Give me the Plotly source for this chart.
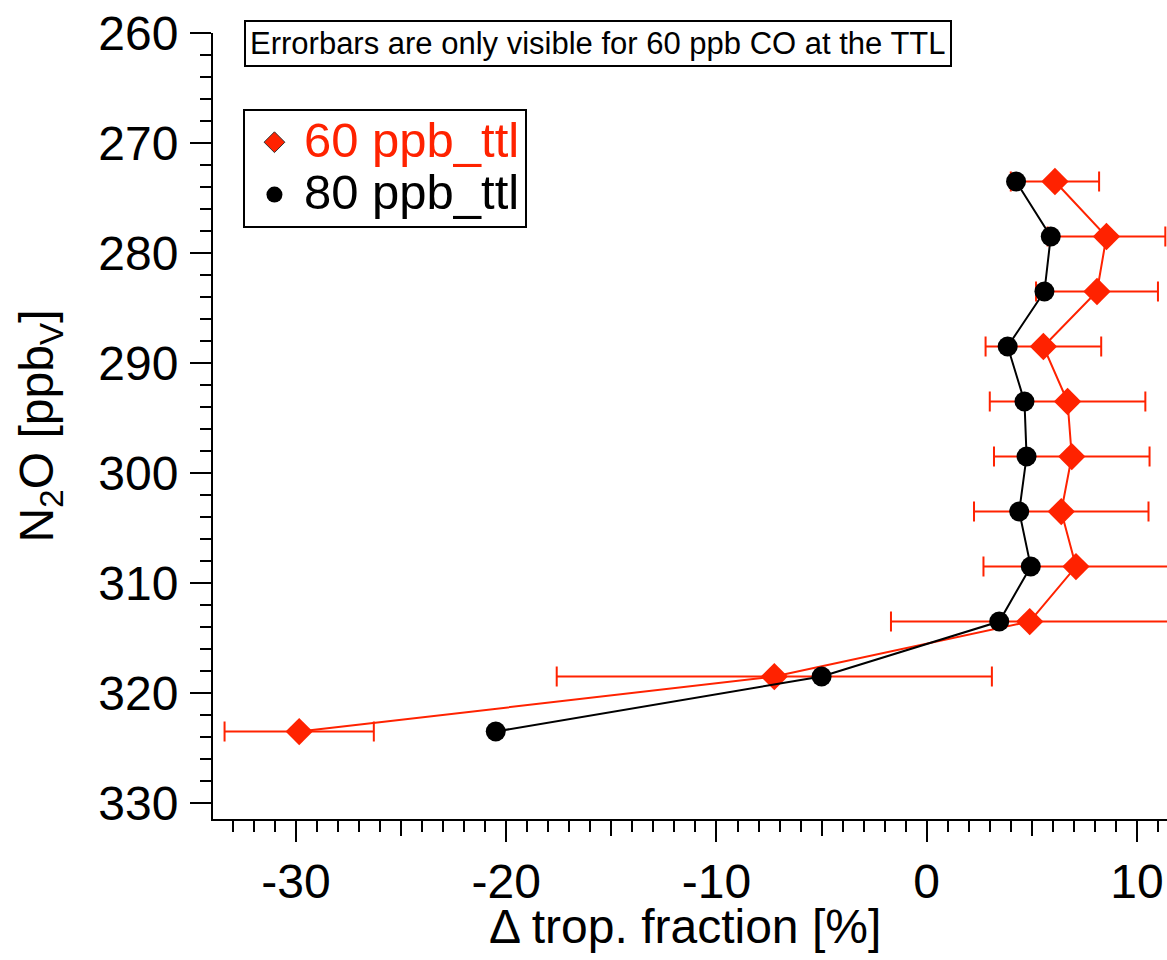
import plotly.graph_objects as go

# ---- data ----
n2o_levels = [273.5, 278.5, 283.5, 288.5, 293.5, 298.5, 303.5, 308.5, 313.5, 318.5, 323.5]
frac_60ppb = [6.1, 8.55, 8.1, 5.55, 6.7, 6.9, 6.4, 7.1, 4.9, -7.25, -29.85]
err_60ppb = [2.1, 2.8, 2.9, 2.75, 3.7, 3.7, 4.15, 4.4, 6.6, 10.35, 3.55]
frac_80ppb = [4.25, 5.9, 5.6, 3.85, 4.65, 4.75, 4.4, 4.95, 3.45, -5.0, -20.5]
x_major_ticks = [-30, -20, -10, 0, 10]
x_major_text = ["-30", "-20", "-10", "0", "10"]
x_mid_ticks = [-25, -15, -5, 5]
y_major_ticks = [260, 270, 280, 290, 300, 310, 320, 330]

RED = "#ff2200"
FONT = "Liberation Sans, Arial, Helvetica, sans-serif"

fig = go.Figure()

fig.add_trace(go.Scatter(
    x=frac_60ppb, y=n2o_levels, mode="lines+markers",
    line=dict(color=RED, width=2),
    marker=dict(symbol="diamond", size=21, color=RED),
    error_x=dict(type="data", array=err_60ppb, visible=True,
                 color=RED, thickness=2, width=10),
    showlegend=False,
))
fig.add_trace(go.Scatter(
    x=frac_80ppb, y=n2o_levels, mode="lines+markers",
    line=dict(color="black", width=2),
    marker=dict(symbol="circle", size=20, color="black"),
    showlegend=False,
))

# legend entries
fig.add_trace(go.Scatter(
    x=[None], y=[None], mode="markers",
    marker=dict(symbol="diamond", size=16, color=RED, line=dict(color="#333333", width=1)),
    name=f'<span style="color:{RED};font-size:49px">60 ppb_ttl</span>',
))
fig.add_trace(go.Scatter(
    x=[None], y=[None], mode="markers",
    marker=dict(symbol="circle", size=16, color="black"),
    name='<span style="font-size:49px">80 ppb_ttl</span>',
))

# dummy trace so the mid-tick overlay axis renders
fig.add_trace(go.Scatter(x=[None], y=[None], xaxis="x2", yaxis="y",
                         showlegend=False, hoverinfo="skip"))

fig.update_layout(
    width=1167, height=960,
    margin=dict(l=213, r=0, t=33, b=141),
    paper_bgcolor="white", plot_bgcolor="white",
    font=dict(family=FONT, color="black"),
    xaxis=dict(
        range=[-33.95, 11.43],
        tickmode="array", tickvals=x_major_ticks, ticktext=x_major_text,
        ticks="outside", ticklen=21, tickwidth=2, tickcolor="black",
        tickfont=dict(size=48, family=FONT, color="black"),
        showline=True, linecolor="black", linewidth=2,
        showgrid=False, zeroline=False,
        minor=dict(dtick=1, ticks="outside", ticklen=11, tickwidth=2,
                   tickcolor="black", showgrid=False),
    ),
    xaxis2=dict(
        overlaying="x", matches="x", anchor="y", side="bottom",
        range=[-33.95, 11.43],
        tickmode="array", tickvals=x_mid_ticks,
        ticks="outside", ticklen=16, tickwidth=2, tickcolor="black",
        showticklabels=False, showline=False, showgrid=False, zeroline=False,
    ),
    yaxis=dict(
        range=[331.45, 260],
        tickmode="array", tickvals=y_major_ticks,
        ticks="outside", ticklen=21, tickwidth=2, tickcolor="black",
        tickfont=dict(size=48, family=FONT, color="black"),
        ticklabelstandoff=2,
        showline=True, linecolor="black", linewidth=2,
        showgrid=False, zeroline=False,
        minor=dict(dtick=2, ticks="outside", ticklen=11, tickwidth=2,
                   tickcolor="black", showgrid=False),
        title=dict(text="N<sub>2</sub>O [ppb<sub>V</sub>]", font=dict(size=48, family=FONT),
                   standoff=30),
    ),
    legend=dict(
        x=0.0314, y=0.9033, xanchor="left", yanchor="top",
        bgcolor="white", bordercolor="black", borderwidth=2,
        font=dict(size=38, family=FONT, color="black"),
        itemwidth=49,
    ),
    annotations=[
        dict(
            text="Errorbars are only visible for 60 ppb CO at the TTL",
            xref="paper", yref="paper", x=0.0325, y=1.0165,
            xanchor="left", yanchor="top", showarrow=False,
            font=dict(size=31, family=FONT, color="black"),
            bordercolor="black", borderwidth=2, borderpad=4, bgcolor="white",
        ),
        dict(
            text="Δ trop. fraction [%]",
            xref="paper", yref="paper", x=0.495, y=-0.137,
            xanchor="center", yanchor="middle", showarrow=False,
            font=dict(size=48, family=FONT, color="black"),
        ),
    ],
)

try:
    fig.update_xaxes(ticklabelstandoff=-2, selector=dict(anchor="y", overlaying=None))
    fig.layout.xaxis.ticklabelstandoff = -2
except Exception:
    fig.layout.xaxis.ticklabelstandoff = 0

fig.write_html(
    "out.html",
    config={"displayModeBar": False},
    post_script="document.body.style.margin='0';document.body.style.overflow='hidden';",
)
